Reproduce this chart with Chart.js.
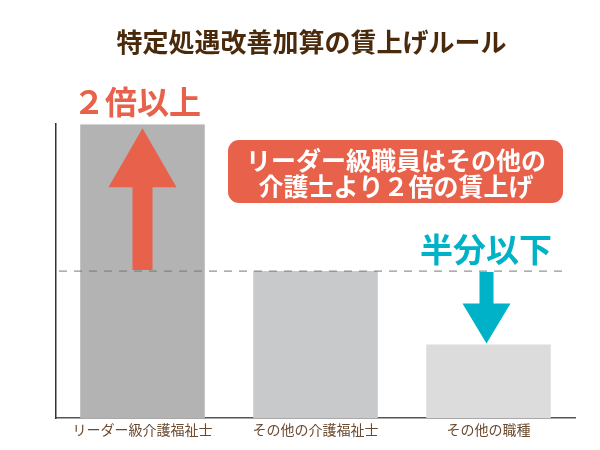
<!DOCTYPE html>
<html>
<head>
<meta charset="utf-8">
<script src="https://cdn.jsdelivr.net/npm/chart.js@4"></script>
<style>
  body { margin: 0; background: #fff; }
  #wrap { width: 600px; height: 450px; position: relative; }
</style>
</head>
<body>
<div id="wrap"><canvas id="bar-chart" width="600" height="450"></canvas></div>
<script>
// data
const categories = ['リーダー級介護福祉士', 'その他の介護福祉士', 'その他の職種'];
const wageValues = [4, 2, 1];
const refLine = 2;
const yMax = 4;

const barColors = ['#b3b3b3', '#c8c9cb', '#dcdcdc'];
const RED = '#e8614a';
const TEAL = '#00b2c8';
const JP = '"Noto Sans CJK JP", "Noto Sans", sans-serif';

// dashed line, arrows and callouts
const overlay = {
  id: 'overlay',
  afterDatasetsDraw(chart) {
    const ctx = chart.ctx;
    const x = chart.scales.x, y = chart.scales.y;
    const area = chart.chartArea;

    // reference dashed line
    const yRef = y.getPixelForValue(refLine);
    ctx.save();
    ctx.strokeStyle = '#777';
    ctx.lineWidth = 1;
    ctx.setLineDash([8, 7]);
    ctx.beginPath();
    ctx.moveTo(area.left + 3, yRef);
    ctx.lineTo(area.right - 7, yRef);
    ctx.stroke();
    ctx.restore();

    // red up arrow on first bar
    const cx0 = x.getPixelForValue(0);
    const top0 = y.getPixelForValue(wageValues[0]) + 4;
    ctx.save();
    ctx.fillStyle = RED;
    ctx.beginPath();
    ctx.moveTo(cx0, top0);
    ctx.lineTo(cx0 + 34, top0 + 59);
    ctx.lineTo(cx0 + 10, top0 + 59);
    ctx.lineTo(cx0 + 10, yRef - 1);
    ctx.lineTo(cx0 - 10, yRef - 1);
    ctx.lineTo(cx0 - 10, top0 + 59);
    ctx.lineTo(cx0 - 34, top0 + 59);
    ctx.closePath();
    ctx.fill();

    // teal down arrow above third bar
    const cx2 = x.getPixelForValue(2) - 2;
    const tip2 = y.getPixelForValue(wageValues[2]) - 1;
    ctx.fillStyle = TEAL;
    ctx.beginPath();
    ctx.moveTo(cx2 - 7, yRef + 1);
    ctx.lineTo(cx2 + 7, yRef + 1);
    ctx.lineTo(cx2 + 7, tip2 - 40);
    ctx.lineTo(cx2 + 24, tip2 - 40);
    ctx.lineTo(cx2, tip2);
    ctx.lineTo(cx2 - 24, tip2 - 40);
    ctx.lineTo(cx2 - 7, tip2 - 40);
    ctx.closePath();
    ctx.fill();

    // texts
    ctx.textAlign = 'center';
    ctx.textBaseline = 'middle';
    ctx.fillStyle = RED;
    ctx.font = 'bold 32px ' + JP;
    ctx.fillText('２倍以上', 137, 102);

    ctx.fillStyle = TEAL;
    ctx.font = 'bold 33px ' + JP;
    ctx.fillText('半分以下', 486, 249);

    // red callout box
    ctx.fillStyle = RED;
    ctx.beginPath();
    ctx.roundRect(228, 140, 335, 63, 11);
    ctx.fill();
    ctx.fillStyle = '#fff';
    ctx.font = 'bold 25px ' + JP;
    ctx.fillText('リーダー級職員はその他の', 396, 160);
    ctx.fillText('介護士より２倍の賃上げ', 396, 186);
    ctx.restore();
  }
};

new Chart(document.getElementById('bar-chart'), {
  type: 'bar',
  data: {
    labels: categories,
    datasets: [{
      data: wageValues,
      backgroundColor: barColors,
      borderWidth: 0,
      barPercentage: 0.72,
      categoryPercentage: 1
    }]
  },
  options: {
    responsive: false,
    animation: false,
    layout: { padding: { left: 48, right: 25, top: 0, bottom: 2 } },
    scales: {
      x: {
        grid: { display: false },
        border: { display: true, color: '#555', width: 1.5 },
        ticks: { color: '#6b4a2f', font: { family: JP, size: 14 }, padding: -5 },
        afterFit(scale) { scale.height = 30; }
      },
      y: {
        min: 0,
        max: yMax,
        grid: { display: false },
        border: { display: true, color: '#333', width: 1.5 },
        ticks: { display: false }
      }
    },
    plugins: {
      legend: { display: false },
      tooltip: { enabled: false },
      title: {
        display: true,
        text: '特定処遇改善加算の賃上げルール',
        color: '#4b2a0c',
        font: { family: JP, size: 26, weight: 'bold' },
        padding: { top: 27, bottom: 66 }
      }
    }
  },
  plugins: [overlay]
});
</script>
</body>
</html>
